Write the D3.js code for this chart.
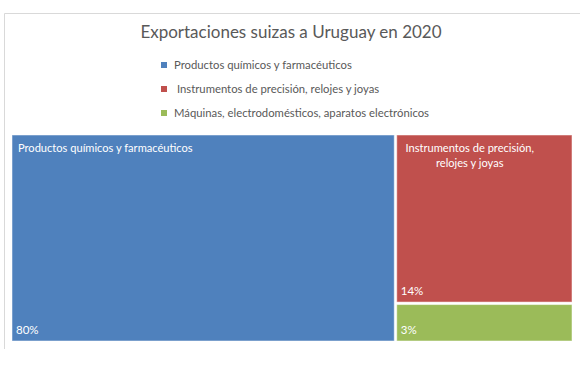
<!DOCTYPE html>
<html>
<head>
<meta charset="utf-8">
<script src="https://cdn.jsdelivr.net/npm/d3@7"></script>
<style>
  html, body { margin: 0; padding: 0; background: #ffffff; }
  svg { display: block; font-family: Lato, "Open Sans", sans-serif; }
</style>
</head>
<body>
<svg id="chart" width="588" height="368"></svg>
<script>
// ---- data ----
const title = "Exportaciones suizas a Uruguay en 2020";
const categories = [
  "Productos químicos y farmacéuticos",
  "Instrumentos de precisión, relojes y joyas",
  "Máquinas, electrodomésticos, aparatos electrónicos"
];
const legendLabels = [
  "Productos químicos y farmacéuticos",
  " Instrumentos de precisión, relojes y joyas",
  "Máquinas, electrodomésticos, aparatos electrónicos"
];
const shareLabels = ["80%", "14%", "3%"];
// relative cell sizes
const cellSizes = [68.4, 25.7, 5.9];
const colors = ["#4F81BD", "#C0504D", "#9BBB59"];

// ---- drawing ----
const svg = d3.select("#chart");

// frame (only top and left edges visible)
svg.append("path")
  .attr("d", "M4.5,349 V13.5 H580")
  .attr("fill", "none")
  .attr("stroke", "#d9d9d9")
  .attr("stroke-width", 1);

svg.append("text")
  .attr("x", 291)
  .attr("y", 38)
  .attr("text-anchor", "middle")
  .attr("font-size", 17)
  .attr("fill", "#595959")
  .text(title);

// legend
const legendY = d3.scalePoint().domain(d3.range(categories.length)).range([65, 113]);
const lg = svg.append("g");
categories.forEach((c, i) => {
  lg.append("rect")
    .attr("x", 161).attr("y", legendY(i) - 3)
    .attr("width", 6).attr("height", 6)
    .attr("fill", colors[i]);
  lg.append("text")
    .attr("x", 174).attr("y", legendY(i) + 4)
    .attr("font-size", 11.3)
    .attr("fill", "#595959")
    .attr("xml:space", "preserve")
    .style("white-space", "pre")
    .text(legendLabels[i]);
});

// treemap
const W = 560, H = 206, X0 = 12, Y0 = 135;
const root = d3.hierarchy({
  children: categories.map((name, i) => ({ name, size: cellSizes[i], i }))
}).sum(d => d.size || 0);

d3.treemap()
  .tile(d3.treemapSquarify)
  .size([W, H])
  .paddingInner(2.5)
  .round(false)(root);

const cells = svg.append("g")
  .attr("transform", `translate(${X0},${Y0})`)
  .selectAll("g")
  .data(root.leaves())
  .join("g");

cells.append("rect")
  .attr("x", d => d.x0).attr("y", d => d.y0)
  .attr("width", d => d.x1 - d.x0).attr("height", d => d.y1 - d.y0)
  .attr("fill", d => colors[d.data.i])
  .attr("stroke", "#ffffff")
  .attr("stroke-opacity", 0.5)
  .attr("stroke-width", 1);

// category labels
cells.each(function(d) {
  const g = d3.select(this);
  if (d.data.i === 0) {
    g.append("text")
      .attr("x", d.x0 + 6).attr("y", d.y0 + 17)
      .attr("font-size", 11.1).attr("fill", "#ffffff")
      .text(d.data.name);
  } else if (d.data.i === 1) {
    const t = g.append("text")
      .attr("text-anchor", "middle")
      .attr("font-size", 11.1).attr("fill", "#ffffff");
    const cx = d.x0 + 73;
    t.append("tspan").attr("x", cx).attr("y", d.y0 + 17).text("Instrumentos de precisión,");
    t.append("tspan").attr("x", cx).attr("y", d.y0 + 32).text("relojes y joyas");
  }
  g.append("text")
    .attr("x", d.x0 + 4).attr("y", d.y1 - 7)
    .attr("font-size", 11.5).attr("fill", "#ffffff")
    .text(shareLabels[d.data.i]);
});
</script>
</body>
</html>
